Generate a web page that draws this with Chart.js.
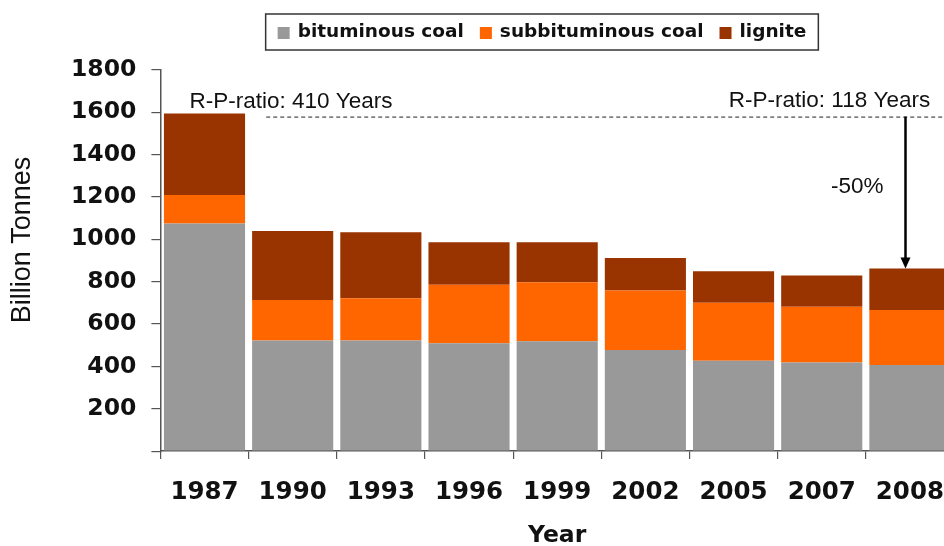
<!DOCTYPE html>
<html><head><meta charset="utf-8">
<script src="https://cdn.jsdelivr.net/npm/chart.js@4.4.1/dist/chart.umd.min.js"></script>
<style>
html,body{margin:0;padding:0;background:#fff;overflow:hidden;}
#wrap{position:relative;width:944px;height:546px;overflow:hidden;}
#c{width:963px;height:546px;}
</style></head><body>
<div id="wrap"><canvas id="c" width="963" height="546"></canvas></div>
<script>
// ---- data ----
const years = ['1987','1990','1993','1996','1999','2002','2005','2007','2008'];
const bituminous    = [1075, 522, 522, 509, 519, 478, 427, 418, 407];
const subbituminous = [ 135, 192, 200, 277, 278, 280, 274, 264, 260];
const lignite       = [ 385, 326, 312, 201, 190, 154, 149, 147, 195];
const seriesNames = ['bituminous coal', 'subbituminous coal', 'lignite'];
const yTickValues = [0, 200, 400, 600, 800, 1000, 1200, 1400, 1600, 1800];
const rpRatioYears = [410, 118];
const rpLevel = 1580;
const declineLabel = '-50%';

// ---- style ----
const colors = ['#999999', '#FF6600', '#993300'];
const boldFont = 'DejaVu Sans';
const regFont = 'Liberation Sans';

const overlay = {
  id: 'overlay',
  afterDatasetsDraw(chart) {
    const ctx = chart.ctx, xs = chart.scales.x, ys = chart.scales.y, area = chart.chartArea;
    const lineY = ys.getPixelForValue(rpLevel);
    ctx.save();
    // dashed R-P line
    ctx.strokeStyle = '#222';
    ctx.lineWidth = 1;
    ctx.setLineDash([4, 3]);
    ctx.beginPath();
    ctx.moveTo(xs.getPixelForValue(0.7), lineY + 0.5);
    ctx.lineTo(chart.width, lineY + 0.5);
    ctx.stroke();
    ctx.setLineDash([]);
    // arrow to last bar
    const last = years.length - 1;
    const total = bituminous[last] + subbituminous[last] + lignite[last];
    const ax = xs.getPixelForValue(last - 0.05);
    const tipY = ys.getPixelForValue(total);
    const head = 11;
    ctx.strokeStyle = '#000';
    ctx.fillStyle = '#000';
    ctx.lineWidth = 2.5;
    ctx.beginPath();
    ctx.moveTo(ax, lineY);
    ctx.lineTo(ax, tipY - head + 1);
    ctx.stroke();
    ctx.beginPath();
    ctx.moveTo(ax - 5, tipY - head);
    ctx.lineTo(ax + 5, tipY - head);
    ctx.lineTo(ax, tipY);
    ctx.closePath();
    ctx.fill();
    // texts
    ctx.fillStyle = '#111';
    ctx.font = '22.5px "' + regFont + '"';
    ctx.textBaseline = 'alphabetic';
    ctx.textAlign = 'left';
    ctx.fillText('R-P-ratio: ' + rpRatioYears[0] + ' Years', xs.getPixelForValue(-0.17), lineY - 9);
    ctx.textAlign = 'right';
    ctx.fillText('R-P-ratio: ' + rpRatioYears[1] + ' Years', xs.getPixelForValue(8.23), lineY - 10);
    ctx.fillText(declineLabel, ax - 22, (lineY + tipY) / 2);
    // y axis title
    ctx.save();
    ctx.translate(23, 240);
    ctx.rotate(-Math.PI / 2);
    ctx.textAlign = 'center';
    ctx.textBaseline = 'middle';
    ctx.font = '27px "' + regFont + '"';
    ctx.fillText('Billion Tonnes', 0, 0);
    ctx.restore();
    // legend
    ctx.font = 'bold 18.5px "' + boldFont + '"';
    const box = 12, gap = 8, spacing = 16, padX = 12;
    const ds = chart.data.datasets;
    let w = padX * 2;
    ds.forEach((d, i) => { w += box + gap + ctx.measureText(d.label).width + (i < ds.length - 1 ? spacing : 0); });
    const cx = 542, top = 14, h = 36;
    const left = cx - w / 2;
    ctx.strokeStyle = '#333';
    ctx.lineWidth = 1.5;
    ctx.strokeRect(left, top, w, h);
    let x = left + padX;
    ctx.textAlign = 'left';
    ctx.textBaseline = 'middle';
    ds.forEach((d, i) => {
      ctx.fillStyle = d.backgroundColor;
      ctx.fillRect(x, top + h / 2 - box / 2 + 1, box, box);
      x += box + gap;
      ctx.fillStyle = '#111';
      ctx.fillText(d.label, x, top + h / 2);
      x += ctx.measureText(d.label).width + spacing;
    });
    ctx.restore();
  }
};

new Chart(document.getElementById('c'), {
  type: 'bar',
  data: {
    labels: years,
    datasets: [
      { label: seriesNames[0], data: bituminous, backgroundColor: colors[0] },
      { label: seriesNames[1], data: subbituminous, backgroundColor: colors[1] },
      { label: seriesNames[2], data: lignite, backgroundColor: colors[2] }
    ]
  },
  options: {
    responsive: false,
    animation: false,
    devicePixelRatio: 1,
    layout: { padding: { top: 70, left: 56, right: 0, bottom: -2 } },
    datasets: { bar: { barPercentage: 0.92, categoryPercentage: 1.0, borderWidth: 0 } },
    plugins: { legend: { display: false }, tooltip: { enabled: false } },
    scales: {
      x: {
        stacked: true,
        grid: { display: true, offset: true, drawOnChartArea: false, drawTicks: true, tickLength: 8, color: '#555', lineWidth: 1.2 },
        border: { display: true, color: '#555', width: 1.5 },
        ticks: { color: '#111', padding: 19, maxRotation: 0, font: { family: boldFont, weight: 'bold', size: 24.5, lineHeight: 1.2 } },
        title: { display: true, text: 'Year', color: '#111', padding: { top: -2, bottom: 0 }, font: { family: boldFont, weight: 'bold', size: 23.5, lineHeight: 1.0 } }
      },
      y: {
        stacked: true,
        min: 0, max: 1800,
        afterBuildTicks(scale) { scale.ticks = yTickValues.map(v => ({ value: v })); },
        grid: { display: true, drawOnChartArea: false, drawTicks: true, tickLength: 9, color: '#555', lineWidth: 1.2 },
        border: { display: true, color: '#555', width: 1.5 },
        ticks: { color: '#111', padding: 15, callback: v => (v === 0 ? '' : String(v)), font: { family: boldFont, weight: 'bold', size: 23.5, lineHeight: 1.2 } }
      }
    }
  },
  plugins: [overlay]
});
</script>
</body></html>
